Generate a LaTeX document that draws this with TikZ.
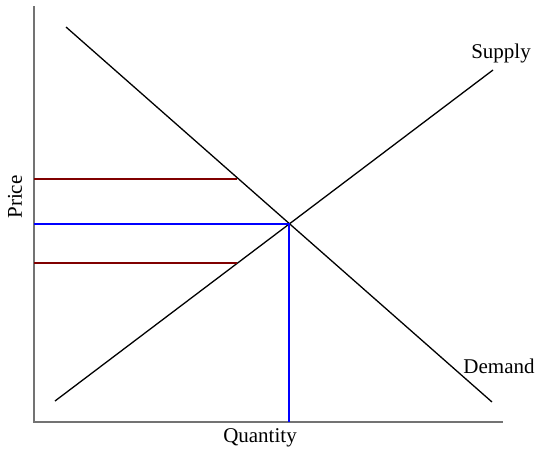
\documentclass[tikz,border=0pt]{standalone}
\usepackage{fontspec}
\setmainfont{Liberation Serif}
\begin{document}
\begin{tikzpicture}[x=1pt,y=-1pt,
  axis/.style={draw=gray!90!black,line width=1.6pt},
  curve/.style={draw=black,line width=1.3pt},
  eq/.style={draw=blue,line width=1.3pt},
  lvl/.style={draw=red!50!black,line width=1.1pt},
  lbl/.style={font=\fontsize{21}{24}\selectfont,inner sep=0pt}]
\useasboundingbox (0,0) rectangle (543,461);
\coordinate (top) at (34,6);
\coordinate (origin) at (34,422);
\coordinate (right) at (503,422);
\draw[axis] (top) -- (origin) -- (right);
\coordinate (d1) at (66,27);
\coordinate (d2) at (492,402);
\coordinate (s1) at (55,401);
\coordinate (s2) at (493,70);
\draw[curve] (d1) -- (d2);
\draw[curve] (s1) -- (s2);
\coordinate (E) at (289,224);
\coordinate (Ey) at (34,224);
\coordinate (Ex) at (289,422);
\draw[eq] (Ey) -- (E) -- (Ex);
\coordinate (h1) at (34,179);
\coordinate (h1e) at (237,179);
\coordinate (h2) at (34,263);
\coordinate (h2e) at (237,263);
\draw[lvl] (h1) -- (h1e);
\draw[lvl] (h2) -- (h2e);
\node[lbl] (supply) at (501,53) {Supply};
\node[lbl] (demand) at (499,366) {Demand};
\node[lbl] (qty) at (260,438) {Quantity};
\node[lbl,rotate=90] (price) at (15,197) {Price};
\end{tikzpicture}
\end{document}
